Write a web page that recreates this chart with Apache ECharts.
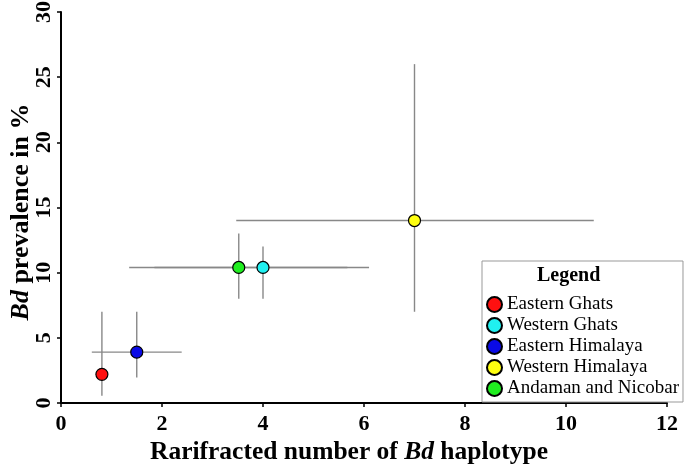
<!DOCTYPE html>
<html><head><meta charset="utf-8">
<script src="https://cdn.jsdelivr.net/npm/echarts@6/dist/echarts.min.js"></script>
<style>html,body{margin:0;padding:0;background:#fff}#c{width:685px;height:466px}</style>
</head><body><div id="c"></div>
<script>
// Data
const regions = ['Eastern Ghats', 'Western Ghats', 'Eastern Himalaya', 'Western Himalaya', 'Andaman and Nicobar'];
const colors = ['#ff1010', '#20f0f0', '#0a0ae6', '#ffff10', '#20ee20'];
const haplotypes = [0.81, 4.0, 1.5, 7.0, 3.52];
const prevalence = [2.2, 10.4, 3.9, 14.0, 10.4];
const haploLow = [0.81, 1.35, 0.61, 3.47, 1.85];
const haploHigh = [0.81, 6.1, 2.39, 10.55, 5.67];
const prevLow = [0.56, 8.0, 1.95, 7.0, 8.0];
const prevHigh = [7.0, 12.0, 7.0, 26.0, 13.0];
const xTicks = [0, 2, 4, 6, 8, 10, 12];
const yTicks = [0, 5, 10, 15, 20, 25, 30];

const FONT = '"Liberation Serif", "Times New Roman", serif';
const errData = regions.map((r, i) => [haplotypes[i], prevalence[i], haploLow[i], haploHigh[i], prevLow[i], prevHigh[i]]);

const chart = echarts.init(document.getElementById('c'), null, {renderer: 'canvas'});
const series = [{
  type: 'custom',
  name: 'err',
  z: 1,
  silent: true,
  data: errData,
  renderItem: function (params, api) {
    const x = api.value(0), y = api.value(1);
    const xl = api.coord([api.value(2), y]);
    const xh = api.coord([api.value(3), y]);
    const yl = api.coord([x, api.value(4)]);
    const yh = api.coord([x, api.value(5)]);
    const st = {stroke: '#888888', lineWidth: 1.4};
    const ch = [];
    if (api.value(3) > api.value(2)) ch.push({type: 'line', shape: {x1: xl[0], y1: xl[1], x2: xh[0], y2: xh[1]}, style: st});
    ch.push({type: 'line', shape: {x1: yl[0], y1: yl[1], x2: yh[0], y2: yh[1]}, style: st});
    return {type: 'group', children: ch};
  }
}];
regions.forEach((r, i) => {
  series.push({
    type: 'scatter',
    name: r,
    z: 5,
    symbol: 'circle',
    symbolSize: 12,
    itemStyle: {color: colors[i], borderColor: '#000', borderWidth: 1.2, opacity: 1},
    data: [[haplotypes[i], prevalence[i]]]
  });
});

chart.setOption({
  animation: false,
  backgroundColor: '#fff',
  grid: {left: 61, right: 18, top: 12, bottom: 63, containLabel: false, outerBoundsMode: 'none'},
  xAxis: {
    type: 'value', min: 0, max: 12, interval: 2,
    axisLine: {show: true, onZero: false, lineStyle: {color: '#000', width: 2}},
    axisTick: {show: true, length: 4, lineStyle: {color: '#000', width: 1.5}},
    splitLine: {show: false},
    axisLabel: {margin: 10, fontFamily: FONT, fontSize: 22, fontWeight: 'bold', color: '#000',
      formatter: v => xTicks.includes(v) ? String(v) : ''},
    name: '{b|Rarifracted number of }{bi|Bd}{b| haplotype}',
    nameLocation: 'middle', nameGap: 36, nameMoveOverlap: false,
    nameTextStyle: {padding: [0, 30, 0, 0], rich: {
      b: {fontFamily: FONT, fontSize: 25.5, fontWeight: 'bold', color: '#000'},
      bi: {fontFamily: FONT, fontSize: 25.5, fontWeight: 'bold', fontStyle: 'italic', color: '#000'}
    }}
  },
  yAxis: {
    type: 'value', min: 0, max: 30, interval: 5,
    axisLine: {show: true, onZero: false, lineStyle: {color: '#000', width: 2}},
    axisTick: {show: true, length: 4, lineStyle: {color: '#000', width: 1.5}},
    splitLine: {show: false},
    axisLabel: {margin: 6, rotate: 90, fontFamily: FONT, fontSize: 22, fontWeight: 'bold', color: '#000',
      formatter: v => yTicks.includes(v) ? String(v) : ''},
    name: '{bi|Bd}{b| prevalence in %}',
    nameLocation: 'middle', nameGap: 27, nameMoveOverlap: false,
    nameTextStyle: {padding: [0, 9, 0, 0], rich: {
      b: {fontFamily: FONT, fontSize: 26, fontWeight: 'bold', color: '#000'},
      bi: {fontFamily: FONT, fontSize: 26, fontWeight: 'bold', fontStyle: 'italic', color: '#000'}
    }}
  },
  legend: {
    data: regions,
    orient: 'vertical',
    left: 482, top: 261,
    padding: [34, 4, 4, 4],
    itemWidth: 15, itemHeight: 15, itemGap: 2,
    backgroundColor: '#fff',
    borderColor: '#999', borderWidth: 1,
    icon: 'circle',
    textStyle: {fontFamily: FONT, fontSize: 19, color: '#000', padding: [0, 0, 0, 0]}
  },
  graphic: [{
    type: 'text', left: 537, top: 266, z: 100,
    style: {text: 'Legend', font: 'bold 20px ' + FONT, fill: '#000'}
  }],
  series: series
});
</script></body></html>
